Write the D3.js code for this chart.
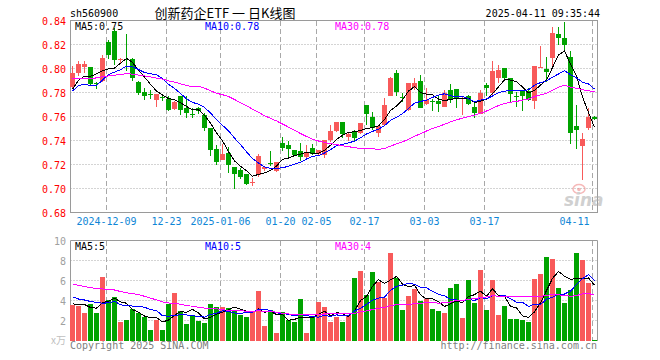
<!DOCTYPE html>
<html><head><meta charset="utf-8">
<script src="https://cdn.jsdelivr.net/npm/d3@7"></script>
<style>html,body{margin:0;padding:0;background:#fff;}svg{display:block;}</style>
</head><body><svg id="c" width="660" height="360"></svg>
<script>
// ---------- data ----------
const dates = ["2024-11-29","2024-12-02","2024-12-03","2024-12-04","2024-12-05","2024-12-06",
"2024-12-09","2024-12-10","2024-12-11","2024-12-12","2024-12-13","2024-12-16","2024-12-17","2024-12-18","2024-12-19","2024-12-20",
"2024-12-23","2024-12-24","2024-12-25","2024-12-26","2024-12-27","2024-12-30","2024-12-31","2025-01-02","2025-01-03",
"2025-01-06","2025-01-07","2025-01-08","2025-01-09","2025-01-10","2025-01-13","2025-01-14","2025-01-15","2025-01-16","2025-01-17",
"2025-01-20","2025-01-21","2025-01-22","2025-01-23","2025-01-24","2025-01-27",
"2025-02-05","2025-02-06","2025-02-07","2025-02-10","2025-02-11","2025-02-12","2025-02-13","2025-02-14",
"2025-02-17","2025-02-18","2025-02-19","2025-02-20","2025-02-21","2025-02-24","2025-02-25","2025-02-26","2025-02-27","2025-02-28",
"2025-03-03","2025-03-04","2025-03-05","2025-03-06","2025-03-07","2025-03-10","2025-03-11","2025-03-12","2025-03-13","2025-03-14",
"2025-03-17","2025-03-18","2025-03-19","2025-03-20","2025-03-21","2025-03-24","2025-03-25","2025-03-26","2025-03-27","2025-03-28",
"2025-03-31","2025-04-01","2025-04-02","2025-04-03","2025-04-07","2025-04-08","2025-04-09","2025-04-10","2025-04-11"];

const open = [0.785,0.796,0.8014,0.801,0.788,0.790,0.822,0.8316,0.807,0.808,
0.8077,0.789,0.7803,0.7787,0.7739,0.776,0.775,0.7666,0.7775,0.7675,
0.7625,0.767,0.761,0.7503,0.733,0.7239,0.7294,0.7183,0.7155,0.7119,
0.705,0.7113,0.716,0.7215,0.7147,0.7377,0.7364,0.732,0.7314,0.7266,
0.7336,0.7286,0.728,0.7405,0.748,0.7552,0.743,0.747,0.7461,0.7692,
0.7594,0.7461,0.753,0.7775,0.7961,0.7765,0.7656,0.7836,0.7892,0.7703,
0.7731,0.7728,0.7683,0.7817,0.7828,0.7745,0.7775,0.7683,0.7625,0.7864,
0.7794,0.7919,0.8008,0.7925,0.7769,0.7814,0.7814,0.773,0.8011,0.7997,
0.8086,0.8286,0.8253,0.810,0.7522,0.7358,0.7503,0.7592];
const high = [0.802,0.806,0.806,0.801,0.789,0.811,0.824,0.8336,0.809,0.829,
0.8085,0.7892,0.784,0.782,0.779,0.779,0.777,0.773,0.7775,0.7775,
0.767,0.768,0.763,0.7505,0.7364,0.737,0.735,0.7183,0.717,0.712,
0.709,0.7286,0.719,0.731,0.722,0.7433,0.7397,0.732,0.7378,0.7364,
0.737,0.7325,0.7405,0.753,0.7555,0.7555,0.7475,0.749,0.7544,0.7692,
0.7636,0.7517,0.7753,0.7933,0.7989,0.7794,0.7883,0.7917,0.7947,0.7836,
0.7747,0.778,0.782,0.787,0.7828,0.7775,0.7781,0.7725,0.7822,0.7878,
0.806,0.803,0.8008,0.7925,0.7808,0.7814,0.7836,0.8022,0.8186,0.8097,
0.8342,0.8342,0.8386,0.8142,0.7692,0.7461,0.7675,0.7603];
const low = [0.783,0.794,0.796,0.786,0.783,0.789,0.808,0.803,0.805,0.798,
0.790,0.778,0.774,0.775,0.768,0.773,0.7642,0.7655,0.761,0.759,
0.7586,0.762,0.748,0.727,0.7197,0.7236,0.713,0.700,0.7077,0.703,
0.7018,0.710,0.715,0.7186,0.7136,0.731,0.7253,0.7275,0.723,0.7253,
0.728,0.7275,0.7253,0.739,0.747,0.7419,0.7397,0.7397,0.7453,0.753,
0.749,0.7433,0.7517,0.7767,0.7767,0.7725,0.7647,0.7822,0.767,0.7692,
0.765,0.764,0.768,0.7714,0.767,0.7611,0.7692,0.7586,0.762,0.7775,
0.7767,0.7878,0.7914,0.7725,0.7683,0.7647,0.773,0.7664,0.8008,0.7886,
0.8008,0.8192,0.8142,0.737,0.7331,0.7072,0.7489,0.757];
const close = [0.796,0.8035,0.8036,0.7875,0.787,0.809,0.811,0.8072,0.808,0.807,
0.792,0.780,0.7772,0.778,0.7786,0.7755,0.7655,0.7725,0.7655,0.7628,
0.762,0.7647,0.7505,0.7322,0.7225,0.7286,0.7197,0.7119,0.710,0.7039,
0.7055,0.7275,0.718,0.7205,0.7219,0.7336,0.733,0.728,0.7266,0.7308,
0.7286,0.7322,0.7405,0.748,0.7552,0.7452,0.7452,0.7425,0.7544,0.762,
0.7503,0.7517,0.7692,0.7919,0.7803,0.776,0.7883,0.7878,0.7675,0.7739,
0.7728,0.7708,0.780,0.775,0.775,0.7755,0.7703,0.7628,0.780,0.7836,
0.798,0.7989,0.7925,0.779,0.7764,0.7767,0.7739,0.8022,0.8016,0.7969,
0.8294,0.8258,0.8197,0.7461,0.7489,0.7414,0.760,0.7583];
const volume = [3.53,3.43,2.77,3.67,2.77,6.37,4.03,4.33,1.83,2.07,
3.17,2.77,2.37,1.03,2.1,1.03,3.67,4.77,2.93,1.67,
2.5,1.93,1.77,3.67,3.33,3.4,3.27,3.03,2.6,2.37,
2.83,4.93,1.43,3.03,0.73,2.87,2.1,1.83,4.17,0.73,
2.5,3.87,3.37,1.86,2.36,1.86,2.53,6.26,6.93,4.53,
6.86,5.86,4.3,8.76,6.3,3.03,4.43,5.13,3.96,4.2,
3.13,2.93,2.8,5.26,5.63,2.23,6.03,3.76,7.03,3.03,
6.03,2.53,3.43,2.13,2.2,2.03,1.83,6.13,6.63,8.33,
8.13,5.3,3.76,5.03,8.76,8.03,5.73,0.1];
// estimated sessions before the visible window (only feed the moving averages)
const priorClose = [0.803,0.801,0.783,0.780,0.779,0.789,0.790,0.791,0.788,0.801,
0.803,0.800,0.804,0.806,0.803,0.806,0.807,0.805,0.804,0.795,
0.7545,0.7966,0.7964,0.787,0.763,0.7655,0.787,0.788,0.777];
const priorVolume = [7.5,6.2,7.0,6.5,6.8,6.0,5.5,6.3,5.8,5.9,
5.8,7.2,6.5,7.6,6.8,7.0,5.9,5.6,6.0,4.0,
5.63,3.77,5.17,3.77,7.01,3.78,2.77,5.17,3.1];

const tickDates  = ["2024-12-09","2024-12-23","2025-01-06","2025-01-20","2025-02-05","2025-02-17","2025-03-03","2025-03-17","2025-04-11"];
const tickLabels = ["2024-12-09","12-23","2025-01-06","01-20","02-05","02-17","03-03","03-17","04-11"];
const priceTicks = [0.68,0.70,0.72,0.74,0.76,0.78,0.80,0.82,0.84];
const volTicks = [2,4,6,8,10];
const maPeriods = [5,10,30];
const priceMaText = ["MA5:0.75","MA10:0.78","MA30:0.78"];
const volMaText = ["MA5:5","MA10:5","MA30:4"];
const code = "sh560900";
const title = "创新药企ETF 一 日K线图";
const stamp = "2025-04-11 09:35:44";

// ---------- drawing ----------
const svg = d3.select("#c");
const N = dates.length;
const maColors = ["#000000","#0000ff","#ff00ff"];
const RED = "#f85a5a", GREEN = "#00a300", GRID = "#a8a8a8", FRAME = "#9a9a9a";
const mono = "'DejaVu Sans Mono', 'Liberation Mono', monospace";

const x = d3.scaleBand().domain(d3.range(N)).range([69.5, 597.5]);
const cx = i => x(i) + x.bandwidth() / 2;
const y = d3.scaleLinear().domain([0.68, 0.84]).range([212.5, 20.5]);
const yv = d3.scaleLinear().domain([0, 10]).range([340.5, 240.5]);

const allC = priorClose.concat(close), allV = priorVolume.concat(volume);
const PC = priorClose.length, PV = priorVolume.length;
const ma = (arr, P, n) => d3.range(N).map(i => d3.mean(arr.slice(P + i - n + 1, P + i + 1)));

const L = 70.5, R = 597.5;
svg.append("defs").append("clipPath").attr("id", "clipP")
  .append("rect").attr("x", 70).attr("y", 20).attr("width", 528).attr("height", 193);
svg.select("defs").append("clipPath").attr("id", "clipV")
  .append("rect").attr("x", 70).attr("y", 240).attr("width", 528).attr("height", 101);

// header
svg.append("text").attr("x", 70).attr("y", 16.5).attr("font-family", mono).attr("font-size", 10)
  .attr("fill", "#000").text(code);
svg.append("text").attr("x", 225).attr("y", 17.5).attr("text-anchor", "middle")
  .attr("font-family", "'Noto Sans CJK SC', sans-serif").attr("font-size", 13).attr("fill", "#000").text(title);
svg.append("text").attr("x", 600).attr("y", 16.5).attr("text-anchor", "end").attr("font-family", mono)
  .attr("font-size", 10).attr("fill", "#000").text(stamp);

// grids
const gx = tickDates.map(d => cx(dates.indexOf(d)) - 2);
const grid = svg.append("g");
grid.selectAll(".vg").data(gx).join("line").attr("x1", d => d).attr("x2", d => d)
  .attr("y1", 21).attr("y2", 212).attr("stroke", GRID).attr("stroke-dasharray", "5,3");
grid.selectAll(".vg2").data(gx).join("line").attr("x1", d => d).attr("x2", d => d)
  .attr("y1", 241).attr("y2", 341).attr("stroke", GRID).attr("stroke-dasharray", "5,3");
grid.selectAll(".hg").data(priceTicks.slice(1, -1)).join("line").attr("x1", L).attr("x2", R)
  .attr("y1", d => y(d)).attr("y2", d => y(d)).attr("stroke", GRID).attr("stroke-dasharray", "1,2");
grid.selectAll(".hv").data(volTicks.slice(0, -1)).join("line").attr("x1", L).attr("x2", R)
  .attr("y1", d => yv(d)).attr("y2", d => yv(d)).attr("stroke", GRID).attr("stroke-dasharray", "1,2");

// frames
svg.append("rect").attr("x", L - 0.5 + 0.5).attr("y", 20.5).attr("width", R - L).attr("height", 192)
  .attr("fill", "none").attr("stroke", FRAME);
svg.append("path").attr("d", `M${L},341V240.5H${R}V341`).attr("fill", "none").attr("stroke", FRAME);

// axis labels
svg.append("g").selectAll("text").data(priceTicks).join("text")
  .attr("x", 66).attr("y", d => y(d) + 4).attr("text-anchor", "end")
  .attr("font-family", mono).attr("font-size", 10).attr("fill", "#ff0000").text(d => d3.format(".2f")(d));
svg.append("g").selectAll("text").data(volTicks).join("text")
  .attr("x", 66).attr("y", d => yv(d) + 4).attr("text-anchor", "end")
  .attr("font-family", mono).attr("font-size", 10).attr("fill", "#a0a0a0").text(d => d);
svg.append("text").attr("x", 66).attr("y", 344).attr("text-anchor", "end")
  .attr("font-family", "'Noto Sans CJK SC', sans-serif").attr("font-size", 10).attr("fill", "#c0c0c0").text("x万");
svg.append("g").selectAll("text").data(tickLabels).join("text")
  .attr("x", (d, i) => i === tickLabels.length - 1 ? gx[i] - 3 : gx[i])
  .attr("y", 225).attr("text-anchor", (d, i) => i === tickLabels.length - 1 ? "end" : "middle")
  .attr("font-family", mono).attr("font-size", 10).attr("fill", "#0f86d6").text(d => d);

// watermark
const wm = svg.append("g").attr("opacity", 0.55);
wm.append("ellipse").attr("cx", 579).attr("cy", 189).attr("rx", 6).attr("ry", 4.5)
  .attr("fill", "none").attr("stroke", "#f08080").attr("stroke-width", 1.5);
wm.append("circle").attr("cx", 579).attr("cy", 189.5).attr("r", 1.8).attr("fill", "#f08080");
wm.append("text").attr("x", 564).attr("y", 206).attr("font-family", "'DejaVu Sans', sans-serif")
  .attr("font-size", 17).attr("font-weight", "bold").attr("font-style", "italic").attr("fill", "#aaaaaa").text("sina");

// candles
const data = d3.range(N).map(i => ({i, o: open[i], h: high[i], l: low[i], c: close[i], v: volume[i], up: close[i] >= open[i]}));
const cg = svg.append("g").attr("clip-path", "url(#clipP)").attr("shape-rendering", "crispEdges");
cg.selectAll(".wick").data(data).join("rect")
  .attr("x", d => cx(d.i) - 0.5).attr("width", 1)
  .attr("y", d => y(d.h)).attr("height", d => Math.max(1, y(d.l) - y(d.h)))
  .attr("fill", d => d.up ? RED : GREEN);
cg.selectAll(".body").data(data).join("rect")
  .attr("x", d => cx(d.i) - 2.5).attr("width", 5)
  .attr("y", d => y(Math.max(d.o, d.c))).attr("height", d => Math.max(1, Math.abs(y(d.o) - y(d.c))))
  .attr("fill", d => d.up ? RED : GREEN);

// price MAs
const lp = d3.line().x((d, i) => cx(i)).y(d => y(d));
maPeriods.forEach((n, k) => {
  cg.append("path").datum(ma(allC, PC, n)).attr("d", lp).attr("fill", "none")
    .attr("stroke", maColors[k]).attr("stroke-width", 1);
});

// volume bars
const vg = svg.append("g").attr("clip-path", "url(#clipV)").attr("shape-rendering", "crispEdges");
vg.selectAll("rect").data(data).join("rect")
  .attr("x", d => cx(d.i) - 2.5).attr("width", 5)
  .attr("y", d => yv(d.v)).attr("height", d => yv(0) - yv(d.v))
  .attr("fill", d => d.up ? RED : GREEN);
const lv = d3.line().x((d, i) => cx(i)).y(d => yv(d));
maPeriods.forEach((n, k) => {
  vg.append("path").datum(ma(allV, PV, n)).attr("d", lv).attr("fill", "none")
    .attr("stroke", maColors[k]).attr("stroke-width", 1);
});

// MA legends
const lx = [75, 205, 335];
svg.append("g").selectAll("text").data(priceMaText).join("text")
  .attr("x", (d, i) => lx[i]).attr("y", 30).attr("font-family", mono).attr("font-size", 10)
  .attr("fill", (d, i) => maColors[i]).text(d => d);
svg.append("g").selectAll("text").data(volMaText).join("text")
  .attr("x", (d, i) => lx[i]).attr("y", 250).attr("font-family", mono).attr("font-size", 10)
  .attr("fill", (d, i) => maColors[i]).text(d => d);

// footer
svg.append("text").attr("x", 70).attr("y", 349).attr("font-family", mono).attr("font-size", 10)
  .attr("fill", "#808080").text("Copyright 2025 SINA.COM");
svg.append("text").attr("x", 597).attr("y", 349).attr("text-anchor", "end").attr("font-family", mono)
  .attr("font-size", 10).attr("fill", "#808080").text("http://finance.sina.com.cn");
</script></body></html>
